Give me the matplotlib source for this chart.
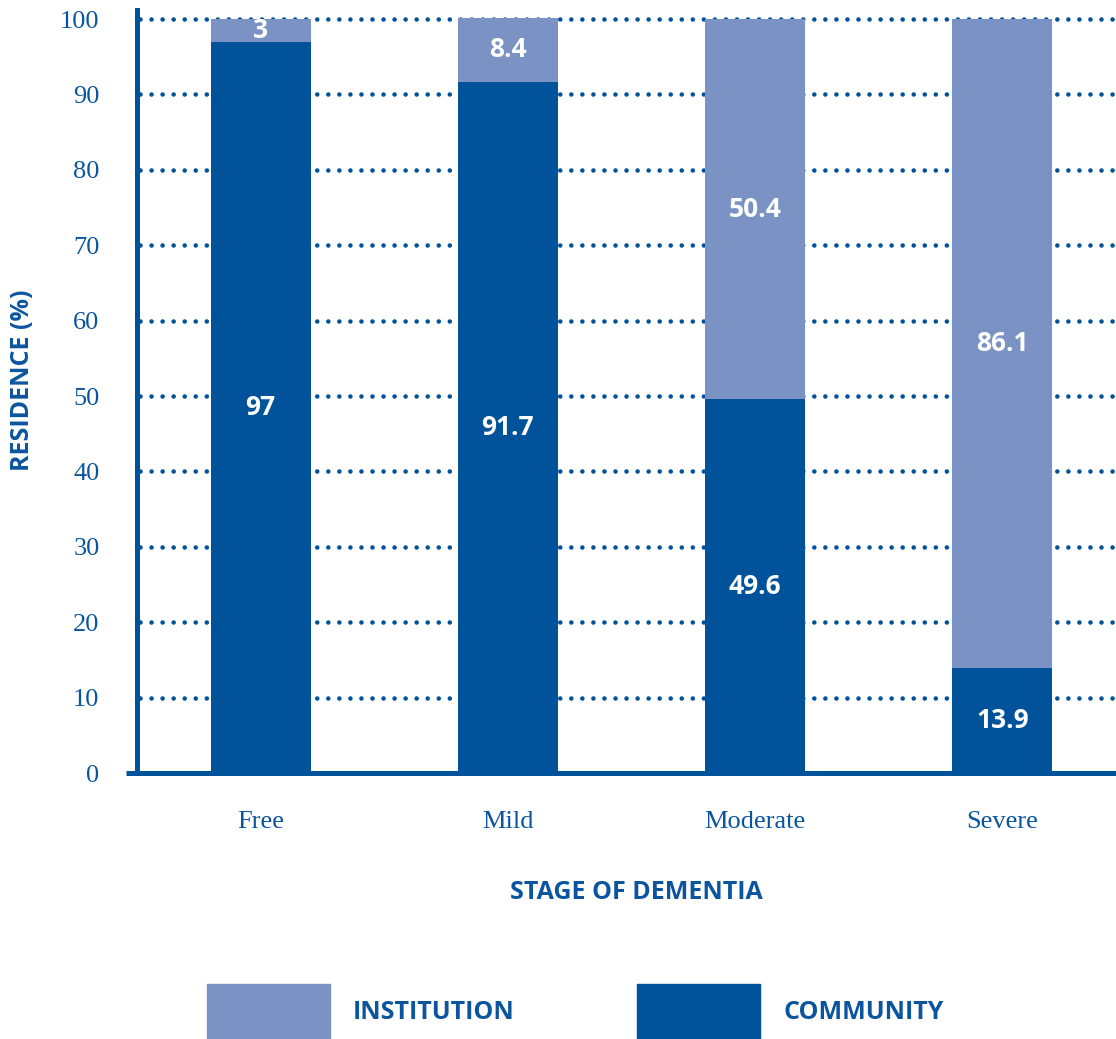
import matplotlib.pyplot as plt
import numpy as np
from matplotlib.patches import Patch

stages = ['Free', 'Mild', 'Moderate', 'Severe']
community = [97, 91.7, 49.6, 13.9]
institution = [3, 8.4, 50.4, 86.1]
yticks = [0, 10, 20, 30, 40, 50, 60, 70, 80, 90, 100]

dark = '#00529b'
light = '#7b93c4'
txt = '#0b55a0'

fig = plt.figure(figsize=(11.16, 10.39), dpi=100)
ax = fig.add_axes([0.1228, 0.256, 0.8772, 0.7344])

x = np.arange(len(stages))
# dotted grid, round dots
for y in yticks[1:]:
    ax.plot([-0.49, 3.46], [y, y], color=dark, lw=3.3, linestyle=(0, (0.01, 2.4)),
            dash_capstyle='round', zorder=1)

b1 = ax.bar(x, community, width=0.405, color=dark, zorder=2)
b2 = ax.bar(x, institution, width=0.405, bottom=community, color=light, zorder=2)

sans = ['Open Sans', 'DejaVu Sans']
for bars, vals in [(b1, community), (b2, institution)]:
    ax.bar_label(bars, labels=[f'{v:g}' for v in vals], label_type='center',
                 color='white', fontsize=19, fontweight='bold', family=sans)

ax.set_xlim(-0.5, 3.46)
ax.set_ylim(0, 101.2)
ax.set_xticks(x)
ax.set_xticklabels(stages)
ax.set_yticks(yticks)
ax.tick_params(axis='both', length=0, labelcolor=txt, labelsize=19)
ax.tick_params(axis='y', pad=27)
ax.tick_params(axis='x', pad=27)
for lab in ax.get_xticklabels() + ax.get_yticklabels():
    lab.set_family('Liberation Serif')

for s in ['top', 'right', 'bottom']:
    ax.spines[s].set_visible(False)
ax.spines['left'].set_color(dark)
ax.spines['left'].set_linewidth(3.6)
ax.plot([-0.011, 1], [0, 0], transform=ax.get_yaxis_transform(), color=dark,
        lw=3.6, clip_on=False, zorder=3, solid_capstyle='butt')

ax.set_ylabel('RESIDENCE (%)', color=txt, fontsize=18, fontweight='bold', family=sans)
ax.yaxis.set_label_coords(-0.104, 0.515)
ax.set_xlabel('STAGE OF DEMENTIA', color=txt, fontsize=18, fontweight='bold', family=sans)
ax.xaxis.set_label_coords(0.51, -0.14)

handles = [Patch(color=light), Patch(color=dark)]
leg = fig.legend(handles, ['INSTITUTION', 'COMMUNITY'], loc='upper left',
                 bbox_to_anchor=(207 / 1116, 1 - 984 / 1039), ncol=2, frameon=False,
                 handlelength=4.92, handleheight=3.0, handletextpad=0.92,
                 columnspacing=4.9, borderpad=0, borderaxespad=0,
                 prop={'family': sans, 'weight': 'bold', 'size': 18})
for t in leg.get_texts():
    t.set_color(txt)

fig.savefig('out.png', dpi=100)
